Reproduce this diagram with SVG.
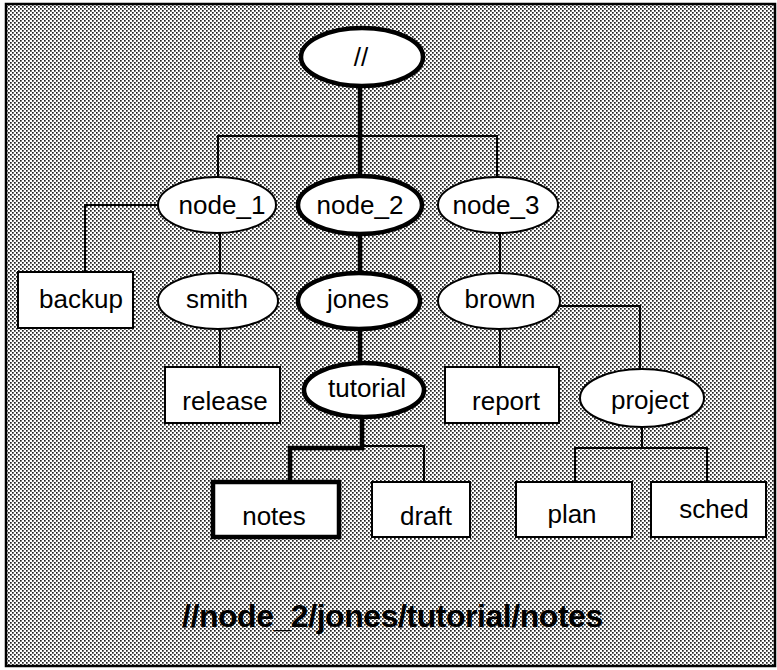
<svg xmlns="http://www.w3.org/2000/svg" width="777" height="670" viewBox="0 0 777 670">
  <defs>
    <!-- halftone dot screen for the panel background -->
    <pattern id="dots" x="0" y="0" width="4" height="4" patternUnits="userSpaceOnUse">
      <rect width="4" height="4" fill="#ffffff"/>
      <rect x="0" y="0" width="1.7" height="1.7" fill="#222"/>
      <rect x="2" y="2" width="1.7" height="1.7" fill="#222"/>
    </pattern>
    <style>
      .node { fill: #ffffff; stroke: #000; stroke-width: 2; }
      .node.bold { stroke-width: 4.5; }
      .lbl { font-family: "Liberation Sans", Arial, Helvetica, sans-serif; font-size: 26px; fill: #000; text-anchor: middle; }
      .wire { fill: none; stroke: #000; stroke-width: 2; }
      .wire.bold { stroke-width: 4.5; }
      .path-title { font-family: "Liberation Sans", Arial, Helvetica, sans-serif; font-size: 32px; font-weight: bold; letter-spacing: -0.45px; fill: #000; }
    </style>
  </defs>

  <rect x="0" y="0" width="777" height="670" fill="#ffffff"/>
  <rect x="6" y="4" width="769" height="662" fill="url(#dots)" stroke="#000" stroke-width="2.5"/>

  <!-- connectors -->
  <g id="connectors">
    <path class="wire bold" d="M360 86 V176"/>
    <path class="wire" d="M218 177 V136 H497 V177"/>
    <path class="wire" d="M158 205 H85 V272"/>
    <path class="wire" d="M220 233 V273"/>
    <path class="wire" d="M220 329 V367"/>
    <path class="wire bold" d="M360 234 V273"/>
    <path class="wire bold" d="M360 329 V363"/>
    <path class="wire bold" d="M362 417 V448 H290 V482"/>
    <path class="wire" d="M362 446 H424 V482"/>
    <path class="wire" d="M500 233 V273"/>
    <path class="wire" d="M500 329 V367"/>
    <path class="wire" d="M560 306 H640 V370"/>
    <path class="wire" d="M642 427 V448"/>
    <path class="wire" d="M575 482 V448 H707 V482"/>
  </g>

  <g id="root">
    <ellipse class="node bold" cx="362" cy="57" rx="61" ry="29"/>
    <text class="lbl" x="361" y="66">//</text>
  </g>
  <g id="node_1">
    <ellipse class="node" cx="217" cy="205" rx="59" ry="28"/>
    <text class="lbl" x="222" y="214">node_1</text>
  </g>
  <g id="node_2">
    <ellipse class="node bold" cx="360" cy="205" rx="62" ry="29"/>
    <text class="lbl" x="360" y="214">node_2</text>
  </g>
  <g id="node_3">
    <ellipse class="node" cx="498" cy="205" rx="60" ry="28"/>
    <text class="lbl" x="496" y="214">node_3</text>
  </g>
  <g id="backup">
    <rect class="node" x="18" y="272" width="115" height="56"/>
    <text class="lbl" x="81" y="308">backup</text>
  </g>
  <g id="smith">
    <ellipse class="node" cx="218" cy="301" rx="60" ry="28"/>
    <text class="lbl" x="217" y="308">smith</text>
  </g>
  <g id="jones">
    <ellipse class="node bold" cx="359" cy="301" rx="61" ry="28"/>
    <text class="lbl" x="358" y="308">jones</text>
  </g>
  <g id="brown">
    <ellipse class="node" cx="499" cy="301" rx="61" ry="28"/>
    <text class="lbl" x="500" y="308">brown</text>
  </g>
  <g id="release">
    <rect class="node" x="165" y="367" width="115" height="56"/>
    <text class="lbl" x="225" y="410">release</text>
  </g>
  <g id="tutorial">
    <ellipse class="node bold" cx="364" cy="390" rx="60" ry="27"/>
    <text class="lbl" x="367" y="397">tutorial</text>
  </g>
  <g id="report">
    <rect class="node" x="445" y="367" width="114" height="56"/>
    <text class="lbl" x="506" y="410">report</text>
  </g>
  <g id="project">
    <ellipse class="node" cx="642" cy="398" rx="62" ry="29"/>
    <text class="lbl" x="650" y="409">project</text>
  </g>
  <g id="notes">
    <rect class="node bold" x="213" y="482" width="126" height="55"/>
    <text class="lbl" x="274" y="525">notes</text>
  </g>
  <g id="draft">
    <rect class="node" x="372" y="482" width="98" height="55"/>
    <text class="lbl" x="426" y="525">draft</text>
  </g>
  <g id="plan">
    <rect class="node" x="516" y="482" width="116" height="55"/>
    <text class="lbl" x="572" y="523">plan</text>
  </g>
  <g id="sched">
    <rect class="node" x="651" y="482" width="115" height="55"/>
    <text class="lbl" x="714" y="518">sched</text>
  </g>

  <text class="path-title" x="182" y="627">//node_2/jones/tutorial/notes</text>
</svg>
